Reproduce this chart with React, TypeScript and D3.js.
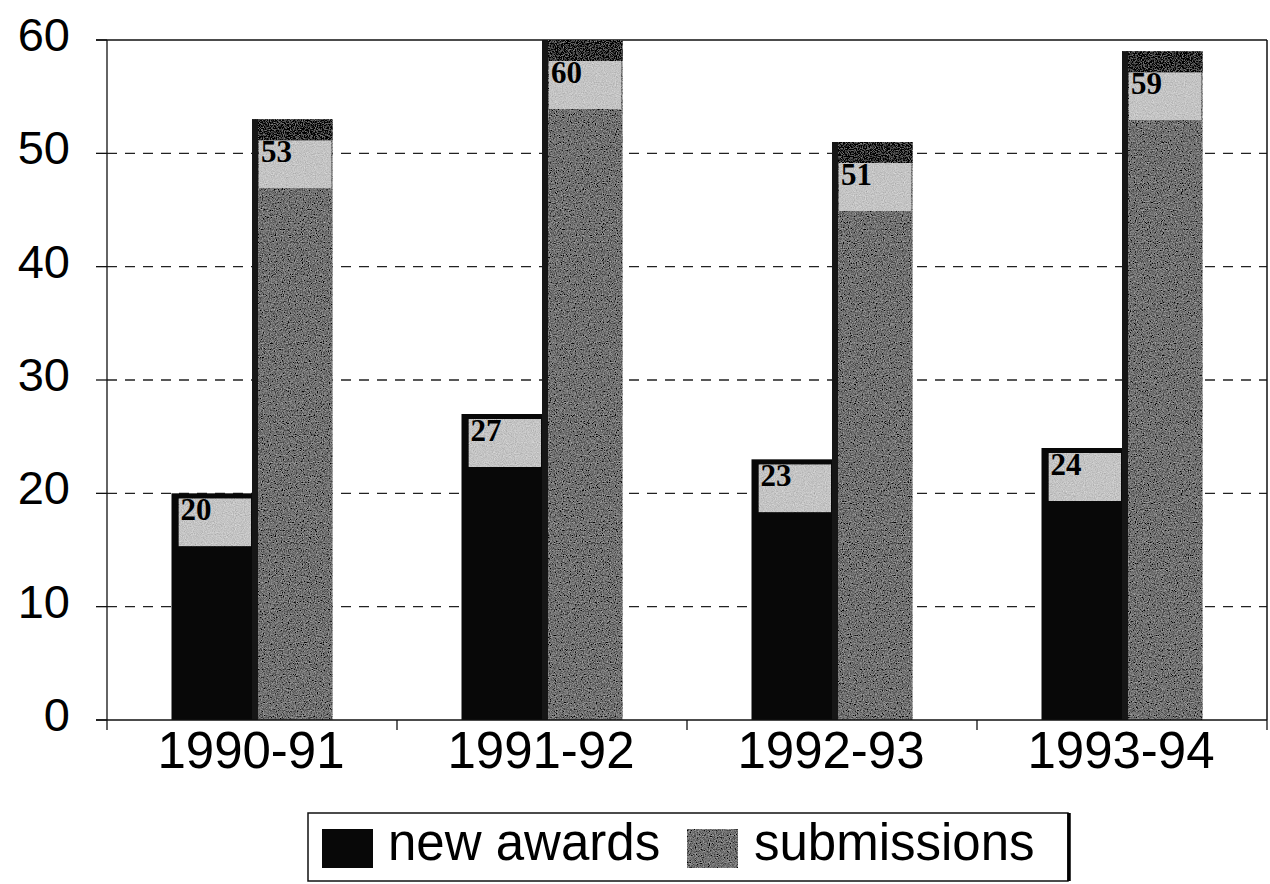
import React from "react";
import * as d3 from "d3";

const categories = ["1990-91", "1991-92", "1992-93", "1993-94"];
const newAwards = [20, 27, 23, 24];
const submissions = [53, 60, 51, 59];
const seriesNames = ["new awards", "submissions"];
const yTicks = [0, 10, 20, 30, 40, 50, 60];

const W = 1270;
const H = 884;
const left = 107;
const right = 1267;
const top = 40;
const bottom = 720;

const SANS = "'Liberation Sans', Arial, Helvetica, sans-serif";
const SERIF = "'Liberation Serif', 'Times New Roman', serif";

export default function App() {
  const x = d3.scaleBand<string>().domain(categories).range([left, right]).paddingInner(0).paddingOuter(0);
  const inner = d3.scaleBand<string>().domain(seriesNames).range([0, 161]);
  const y = d3.scaleLinear().domain([0, 60]).range([bottom, top]);
  const bw = inner.bandwidth();
  const off = (x.bandwidth() - 161) / 2;

  const series = [newAwards, submissions];

  return (
    <svg width={W} height={H} style={{ position: "absolute", left: 0, top: 0, background: "#fff" }}>
      <defs>
        <filter id="grain" x="0" y="0" width="100%" height="100%" filterUnits="objectBoundingBox">
          <feTurbulence type="fractalNoise" baseFrequency="0.85" numOctaves="2" seed="4" result="n" />
          <feColorMatrix in="n" type="matrix"
            values="0.33 0.33 0.33 0 0  0.33 0.33 0.33 0 0  0.33 0.33 0.33 0 0  0 0 0 0 1" result="g" />
          <feComposite in="SourceGraphic" in2="g" operator="arithmetic" k1="0" k2="1" k3="1.1" k4="-0.55" result="c" />
          <feComposite in="c" in2="SourceGraphic" operator="in" />
        </filter>
        <filter id="grainLight" x="0" y="0" width="100%" height="100%" filterUnits="objectBoundingBox">
          <feTurbulence type="fractalNoise" baseFrequency="0.9" numOctaves="2" seed="9" result="n" />
          <feColorMatrix in="n" type="matrix"
            values="0.33 0.33 0.33 0 0  0.33 0.33 0.33 0 0  0.33 0.33 0.33 0 0  0 0 0 0 1" result="g" />
          <feComposite in="SourceGraphic" in2="g" operator="arithmetic" k1="0" k2="1" k3="0.7" k4="-0.35" result="c" />
          <feComposite in="c" in2="SourceGraphic" operator="in" />
        </filter>
      </defs>

      {/* gridlines */}
      {yTicks.filter((t) => t > 0 && t < 60).map((t) => (
        <line key={"g" + t} x1={left} x2={right} y1={y(t)} y2={y(t)} stroke="#222" strokeWidth={1.3} strokeDasharray="10 8" />
      ))}
      {/* y ticks */}
      {yTicks.map((t) => (
        <line key={"t" + t} x1={96} x2={left} y1={y(t)} y2={y(t)} stroke="#111" strokeWidth={1.3} />
      ))}
      {/* frame */}
      <line x1={96} x2={right} y1={top} y2={top} stroke="#111" strokeWidth={1.5} />
      <line x1={right} x2={right} y1={top} y2={bottom} stroke="#111" strokeWidth={1.5} />
      <line x1={left} x2={left} y1={top} y2={bottom + 10} stroke="#111" strokeWidth={1.3} />

      {/* bars */}
      {categories.map((c, i) =>
        seriesNames.map((s, j) => {
          const v = series[j][i];
          const bx = (x(c) as number) + off + (inner(s) as number);
          const by = y(v);
          const bh = bottom - by;
          const band = j === 0 ? 5 : 21;
          const boxTop = by + band;
          const boxH = 48;
          const boxX = bx + 7;
          const boxW = bw - 8;
          return (
            <g key={c + s}>
              {j === 0 ? (
                <rect x={bx} y={by} width={bw} height={bh} fill="#080808" />
              ) : (
                <>
                  <rect x={bx} y={by} width={bw} height={bh} fill="#727272" filter="url(#grain)" />
                  <rect x={bx} y={by} width={bw} height={band} fill="#333" filter="url(#grain)" />
                  <rect x={bx} y={by} width={6} height={bh} fill="#161616" />
                </>
              )}
              <rect x={boxX} y={boxTop} width={boxW} height={boxH} fill="#c4c4c4" filter="url(#grainLight)" />
              <text x={boxX + 2} y={boxTop + 22} fontFamily={SERIF} fontWeight="bold" fontSize={31} fill="#000">
                {v}
              </text>
            </g>
          );
        })
      )}

      {/* baseline and category ticks */}
      <line x1={96} x2={right} y1={bottom} y2={bottom} stroke="#111" strokeWidth={1.5} />
      {categories.map((c, i) =>
        i > 0 ? (
          <line key={"ct" + c} x1={x(c) as number} x2={x(c) as number} y1={bottom} y2={bottom + 10} stroke="#111" strokeWidth={1.3} />
        ) : null
      )}
      <line x1={right} x2={right} y1={bottom} y2={bottom + 10} stroke="#111" strokeWidth={1.3} />

      {/* y labels */}
      {yTicks.map((t) => (
        <text key={"yl" + t} x={70} y={y(t) + 11} textAnchor="end" fontFamily={SANS} fontSize={47} fill="#000">
          {t}
        </text>
      ))}

      {/* x labels */}
      {categories.map((c) => (
        <text key={"xl" + c} x={(x(c) as number) + x.bandwidth() / 2 - 1} y={768} textAnchor="middle" fontFamily={SANS} fontSize={51} fill="#000">
          {c}
        </text>
      ))}

      {/* legend */}
      <rect x={308} y={813} width={760} height={68} fill="#fff" stroke="#111" strokeWidth={1.5} />
      <line x1={1069} x2={1069} y1={813} y2={881} stroke="#000" strokeWidth={3.5} />
      <rect x={322} y={829} width={51} height={39} fill="#080808" />
      <text x={388} y={860} fontFamily={SANS} fontSize={51} fill="#000">{seriesNames[0]}</text>
      <rect x={687} y={829} width={51} height={39} fill="#727272" filter="url(#grain)" />
      <text x={754} y={860} fontFamily={SANS} fontSize={51} fill="#000">{seriesNames[1]}</text>
    </svg>
  );
}
